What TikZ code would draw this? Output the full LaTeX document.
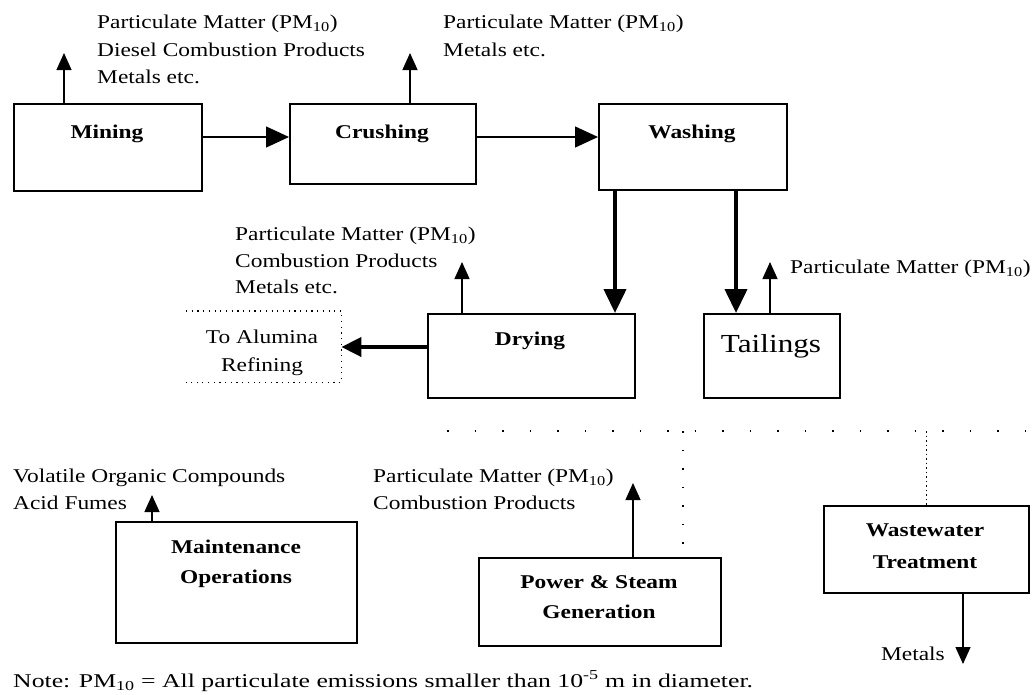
\documentclass[tikz,border=0pt]{standalone}
\usepackage{fontspec}
\setmainfont{Liberation Serif}[FakeStretch=1.2]
\usetikzlibrary{arrows.meta}
\tikzset{
  box/.style={draw, line width=1.6pt, inner sep=0pt, anchor=north west},
  lbl/.style={font=\bfseries\fontsize{19.5}{24}\selectfont, anchor=base, inner sep=0pt},
  txt/.style={font=\fontsize{19.5}{24}\selectfont, anchor=base west, inner sep=0pt},
  emit/.style={line width=1.3pt, -{Triangle[length=17pt,width=15pt]}},
  flow/.style={line width=1.3pt, -{Triangle[length=23pt,width=21pt]}},
  heavy/.style={line width=4pt, -{Triangle[length=24pt,width=22pt]}},
  dotbox/.style={line width=1.2pt, dash pattern=on 1.2pt off 4.5pt},
}
\begin{document}
\begin{tikzpicture}[x=1pt,y=-1pt]
\useasboundingbox (0,0) rectangle (1034,694);
% boxes
\node[box, minimum width=188pt, minimum height=87pt] (mining) at (13,103) {};
\node[box, minimum width=186pt, minimum height=80pt] (crushing) at (289,103) {};
\node[box, minimum width=188pt, minimum height=86pt] (washing) at (598,103) {};
\node[box, minimum width=207pt, minimum height=84pt] (drying) at (427,313) {};
\node[box, minimum width=136pt, minimum height=84pt] (tailings) at (703,313) {};
\node[box, minimum width=241pt, minimum height=121pt] (maint) at (115,521) {};
\node[box, minimum width=242pt, minimum height=88pt] (power) at (478,557) {};
\node[box, minimum width=205pt, minimum height=87pt] (waste) at (823,505) {};
\node[inner sep=0pt, minimum width=155pt, minimum height=71pt, anchor=north west] (alumina) at (186,311) {};
\draw[dotbox] (alumina.north west) -- (alumina.north east) -- (alumina.south east) -- (alumina.south west);
% box labels
\node[lbl] (lmining) at (107,138) {Mining};
\node[lbl] (lcrushing) at (382,138) {Crushing};
\node[lbl] (lwashing) at (692,138) {Washing};
\node[lbl] (ldrying) at (530,345) {Drying};
\node[font=\fontsize{26}{30}\selectfont, anchor=base, inner sep=0pt] (ltailings) at (771,352) {Tailings};
\node[lbl] (lmaint1) at (236,553) {Maintenance};
\node[lbl] (lmaint2) at (236,583) {Operations};
\node[lbl] (lpower1) at (599,588) {Power \& Steam};
\node[lbl] (lpower2) at (599,618) {Generation};
\node[lbl] (lwaste1) at (925,536) {Wastewater};
\node[lbl] (lwaste2) at (925,568) {Treatment};
\node[txt, anchor=base] (lalum1) at (262,343) {To Alumina};
\node[txt, anchor=base] (lalum2) at (262,371) {Refining};
% emission texts
\node[txt] (t1a) at (97,28) {Particulate Matter (PM\textsubscript{10})};
\node[txt] (t1b) at (97,56) {Diesel Combustion Products};
\node[txt] (t1c) at (97,83) {Metals etc.};
\node[txt] (t2a) at (443,28) {Particulate Matter (PM\textsubscript{10})};
\node[txt] (t2b) at (443,56) {Metals etc.};
\node[txt] (t3a) at (235,240) {Particulate Matter (PM\textsubscript{10})};
\node[txt] (t3b) at (235,267) {Combustion Products};
\node[txt] (t3c) at (235,293) {Metals etc.};
\node[txt] (t4a) at (790,273) {Particulate Matter (PM\textsubscript{10})};
\node[txt] (t5a) at (13,482) {Volatile Organic Compounds};
\node[txt] (t5b) at (13,509) {Acid Fumes};
\node[txt] (t6a) at (373,482) {Particulate Matter (PM\textsubscript{10})};
\node[txt] (t6b) at (373,509) {Combustion Products};
\node[txt, anchor=base east] (tmetals) at (945,660) {Metals};
\node[txt] (note) at (13,687) {\scalebox{1.1}[1]{Note: PM\textsubscript{10} = All particulate emissions smaller than 10\textsuperscript{-5} m in diameter.}};
% free ends
\coordinate (e1) at (64,53);
\coordinate (e2) at (410,53);
\coordinate (e3) at (462,262);
\coordinate (e4) at (770,262);
\coordinate (e5) at (152,495);
\coordinate (e6) at (633,483);
\coordinate (e7) at (963,664);
% flows
\draw[flow] (mining.east |- 0,137) -- (crushing.west |- 0,137);
\draw[flow] (crushing.east |- 0,137) -- (washing.west |- 0,137);
\draw[heavy] (washing.south -| 615,0) -- (drying.north -| 615,0);
\draw[heavy] (washing.south -| 736,0) -- (tailings.north -| 736,0);
\draw[line width=4pt, -{Triangle[length=20pt,width=19pt]}] (drying.west |- 0,347) -- (alumina.east |- 0,347);
% emissions
\draw[emit] (mining.north -| e1) -- (e1);
\draw[emit] (crushing.north -| e2) -- (e2);
\draw[emit] (drying.north -| e3) -- (e3);
\draw[emit] (tailings.north -| e4) -- (e4);
\draw[emit] (maint.north -| e5) -- (e5);
\draw[emit] (power.north -| e6) -- (e6);
\draw[emit] (waste.south -| e7) -- (e7);
% dotted separators
\coordinate (h1) at (447,431);
\coordinate (h2) at (1034,431);
\draw[line width=1.5pt, dash pattern=on 1.5pt off 26pt] (h1) -- (h2);
\coordinate (v1) at (683,545);
\draw[line width=1.5pt, dash pattern=on 1.5pt off 17pt] (h1 -| v1) -- (v1);
\draw[line width=1.5pt, dash pattern=on 1.5pt off 3pt] (h1 -| waste.north) -- (waste.north);
\end{tikzpicture}
\end{document}
